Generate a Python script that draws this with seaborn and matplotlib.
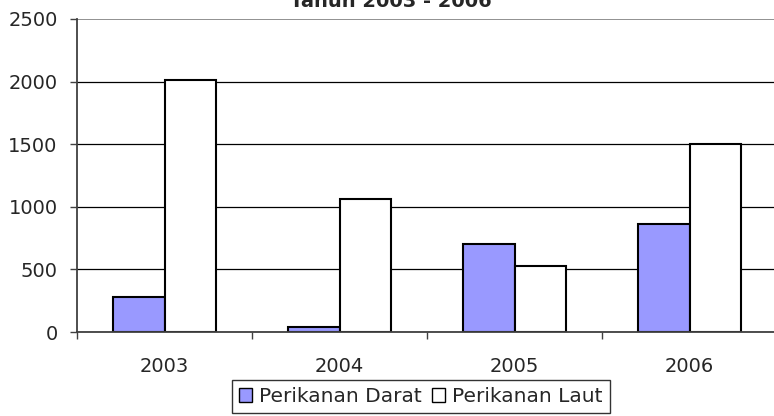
import matplotlib
matplotlib.use("Agg")
import pandas as pd
import seaborn as sns
from matplotlib import pyplot as plt

years = ["2003", "2004", "2005", "2006"]
darat = [280, 40, 705, 862]
laut = [2010, 1060, 527, 1500]
series = ["Perikanan Darat", "Perikanan Laut"]
colours = ["#9999FF", "#FFFFFF"]


def main():
    df = pd.DataFrame({
        "Tahun": years * 2,
        "Nilai": darat + laut,
        "Jenis": [series[0]] * len(years) + [series[1]] * len(years),
    })

    sns.set_style("white")
    plt.rcParams["font.family"] = ["DejaVu Sans"]

    fig = plt.figure(figsize=(7.74, 4.16), dpi=100)
    ax = fig.add_axes([77 / 774, 84 / 416, 700 / 774, 313 / 416])

    sns.barplot(data=df, x="Tahun", y="Nilai", hue="Jenis", palette=colours,
                width=0.588, gap=0, edgecolor="black", linewidth=1.5,
                saturation=1, ax=ax, legend=True)

    ax.set_xlim(-0.5, 3.5)
    ax.set_ylim(0, 2500)
    ax.set_yticks([0, 500, 1000, 1500, 2000, 2500])
    ax.yaxis.grid(True, color="black", linewidth=0.9)
    # top gridline is drawn lighter in the original
    ax.get_ygridlines()[-1].set_color("#909090")
    ax.get_ygridlines()[-1].set_linewidth(1.4)
    ax.set_axisbelow(True)
    ax.set_xlabel("")
    ax.set_ylabel("")

    for side in ["top", "right"]:
        ax.spines[side].set_visible(False)
    ax.spines["left"].set_color("#404040")
    ax.spines["bottom"].set_color("#404040")
    ax.spines["left"].set_linewidth(1.3)
    ax.spines["bottom"].set_linewidth(1.3)

    ax.tick_params(axis="y", which="major", length=5, width=1, color="#404040",
                   pad=9, labelsize=14, left=True)
    ax.tick_params(axis="x", which="major", length=0, pad=18, labelsize=14)
    ax.set_xticks([-0.5, 0.5, 1.5, 2.5, 3.5], minor=True)
    ax.tick_params(axis="x", which="minor", length=5, width=1, color="#404040",
                   bottom=True)

    ax.get_legend().remove()
    handles, labels = ax.get_legend_handles_labels()
    leg = fig.legend(handles[:2], labels[:2], loc="upper left",
                     bbox_to_anchor=(232 / 774, 1 - 380 / 416), ncol=2,
                     frameon=True, fancybox=False, fontsize=14.5,
                     handlelength=0.65, handleheight=0.65, handletextpad=0.35,
                     columnspacing=0.5, borderpad=0.35, borderaxespad=0)
    leg.get_frame().set_edgecolor("black")
    leg.get_frame().set_linewidth(1)
    for h in leg.legend_handles:
        h.set_linewidth(1)

    fig.text(391 / 774, 1 - 7 / 416, "Tahun 2003 - 2006", ha="center",
             va="baseline", fontsize=14, fontweight="bold")

    fig.savefig("out.png", dpi=100)


if __name__ == "__main__":
    main()
